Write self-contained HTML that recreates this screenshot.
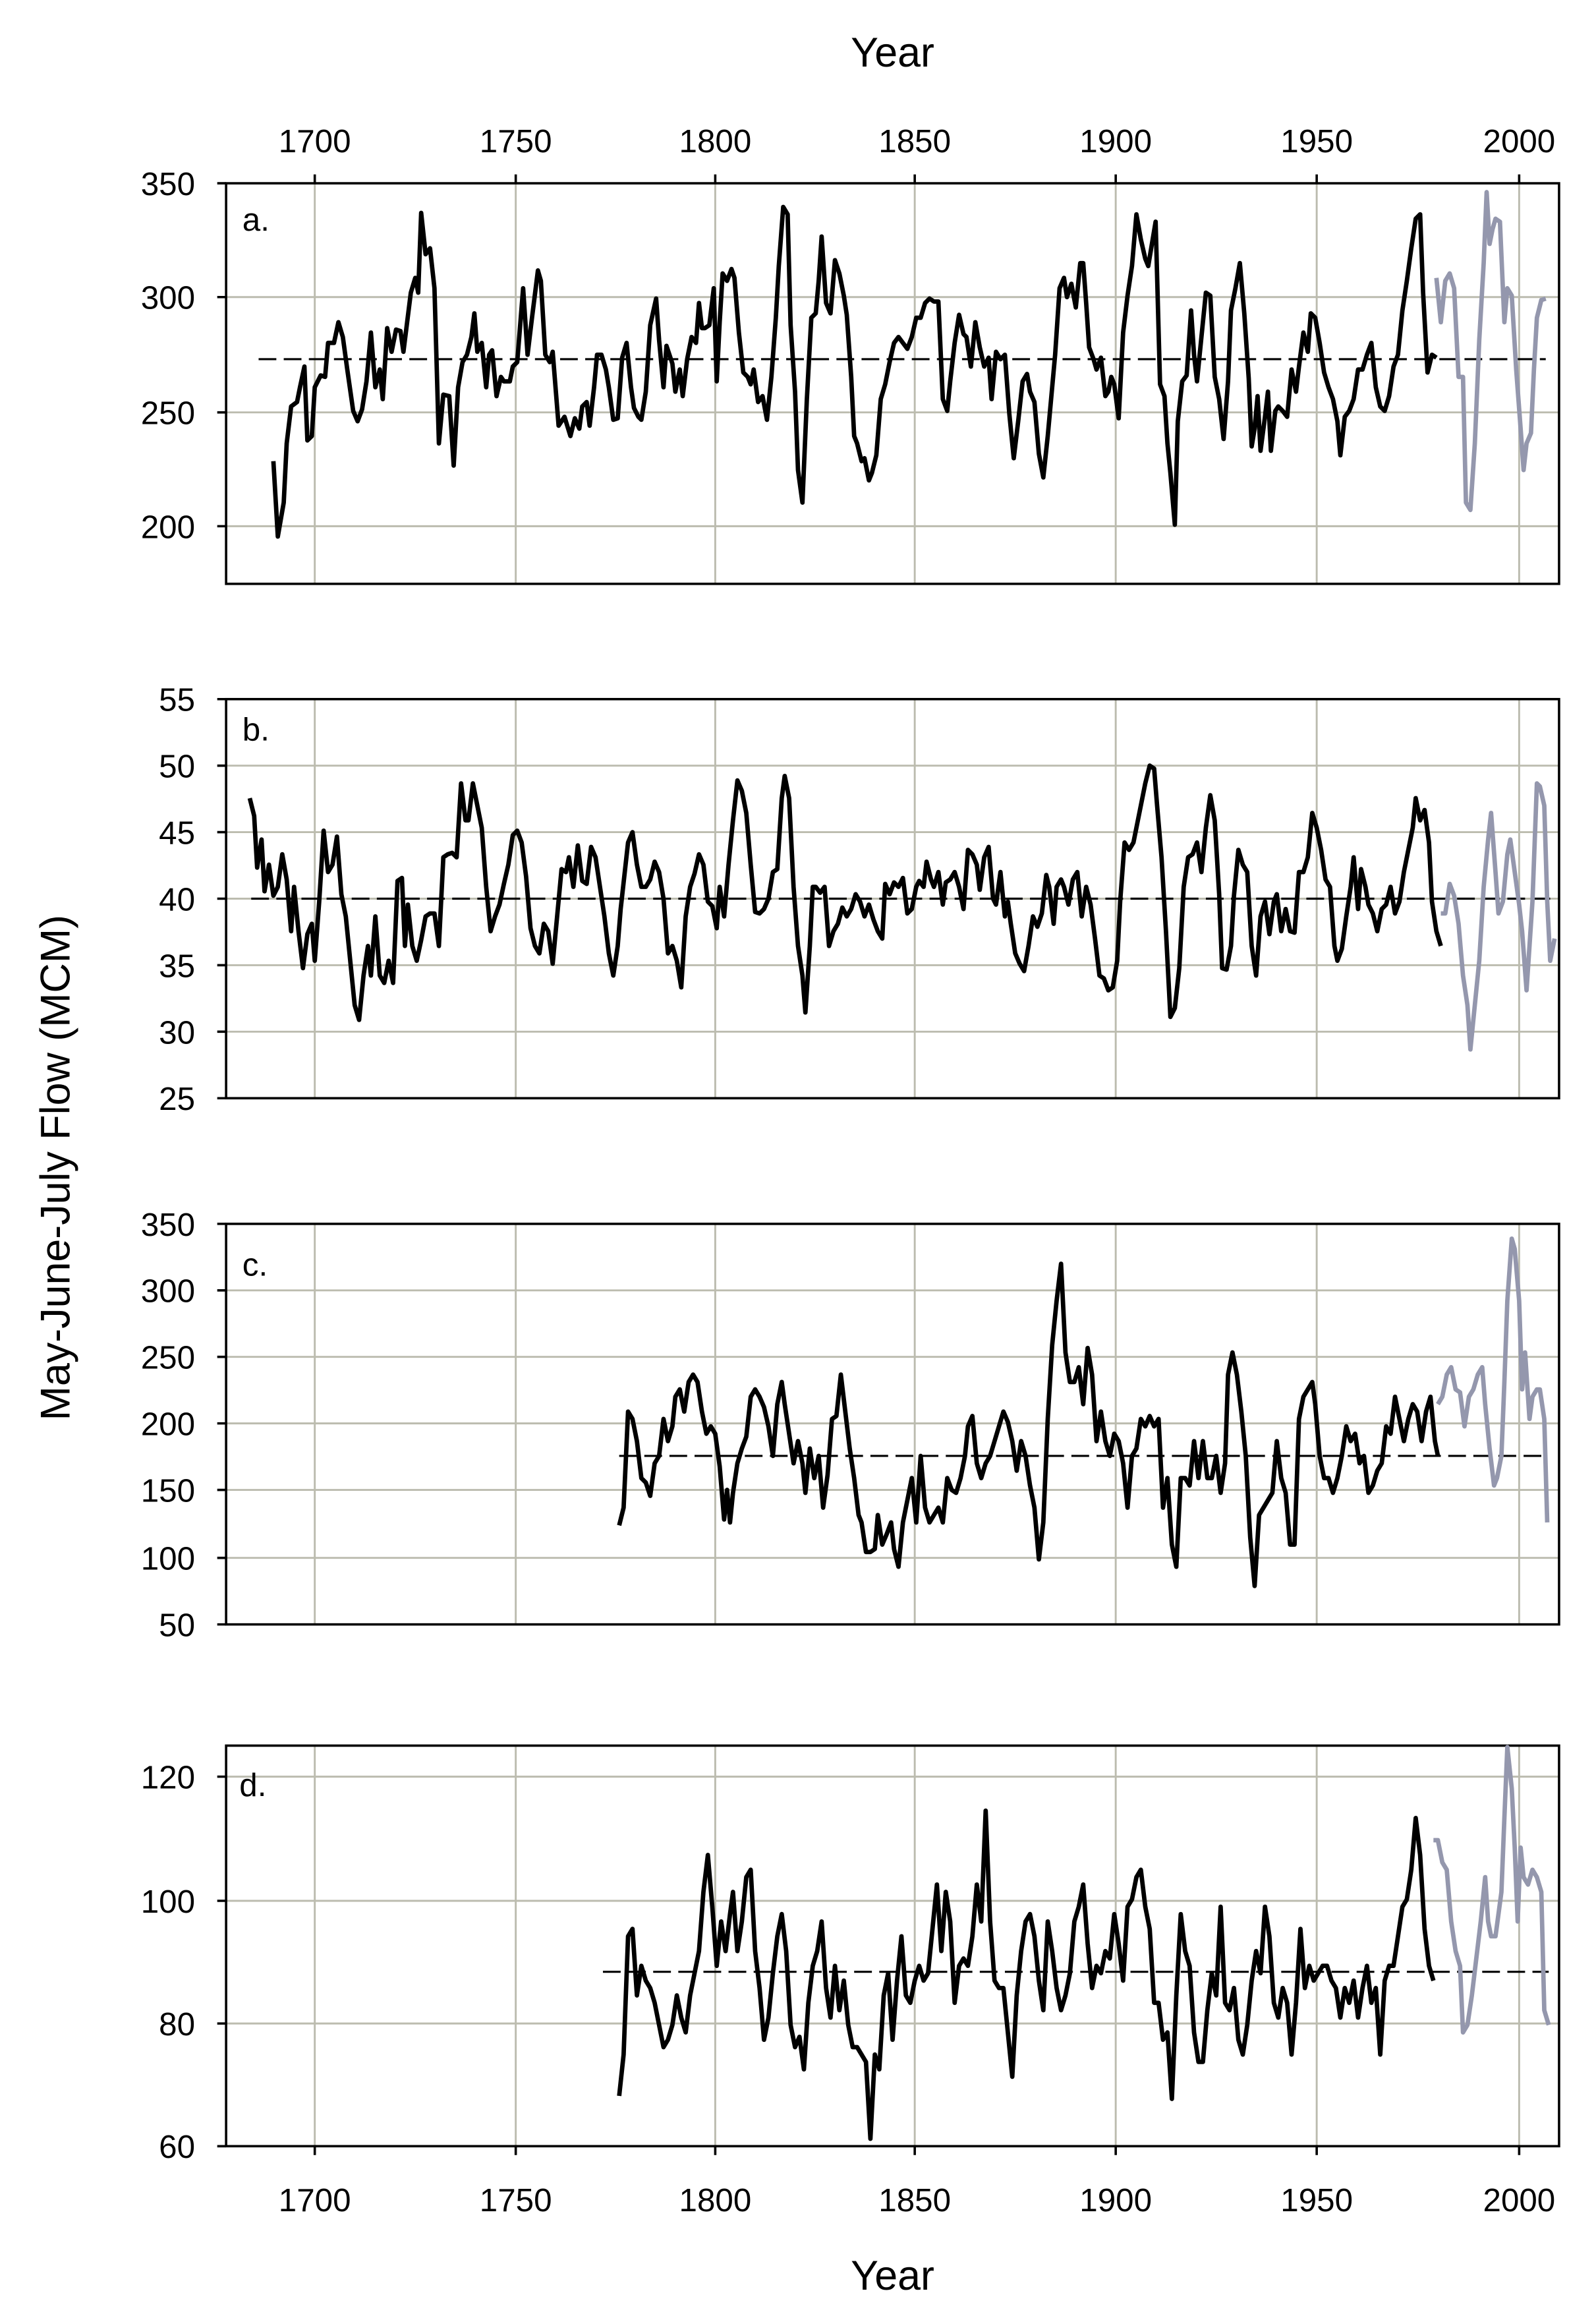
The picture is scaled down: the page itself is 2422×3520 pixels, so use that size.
<!DOCTYPE html>
<html><head><meta charset="utf-8"><style>
html,body{margin:0;padding:0;background:#fff;}
svg{display:block;}
text{font-family:"Liberation Sans",Arial,sans-serif;fill:#000;}
</style></head><body>
<svg width="2422" height="3520" viewBox="0 0 1080 1569.6" preserveAspectRatio="none" xmlns="http://www.w3.org/2000/svg">
<rect width="1080" height="1570" fill="#fff"/>
<g stroke="#bcbcaf" stroke-width="1.3">
<path d="M213,124V395M349,124V395M484,124V395M619,124V395M755,124V395M891,124V395M1028,124V395"/>
<path d="M213,473V743M349,473V743M484,473V743M619,473V743M755,473V743M891,473V743M1028,473V743"/>
<path d="M213,828V1099M349,828V1099M484,828V1099M619,828V1099M755,828V1099M891,828V1099M1028,828V1099"/>
<path d="M213,1181V1452M349,1181V1452M484,1181V1452M619,1181V1452M755,1181V1452M891,1181V1452M1028,1181V1452"/>
<path d="M153,201H1055M153,279H1055M153,356H1055"/>
<path d="M153,518H1055M153,563H1055M153,608H1055M153,653H1055M153,698H1055"/>
<path d="M153,873H1055M153,918H1055M153,963H1055M153,1008H1055M153,1054H1055"/>
<path d="M153,1202H1055M153,1286H1055M153,1369H1055"/>
</g>
<g fill="none" stroke="#000" stroke-width="1.6">
<rect x="153" y="124" width="902" height="271"/>
<rect x="153" y="473" width="902" height="270"/>
<rect x="153" y="828" width="902" height="271"/>
<rect x="153" y="1181" width="902" height="271"/>
<path d="M147,124H153M147,201H153M147,279H153M147,356H153"/>
<path d="M147,473H153M147,518H153M147,563H153M147,608H153M147,653H153M147,698H153M147,743H153"/>
<path d="M147,828H153M147,873H153M147,918H153M147,963H153M147,1008H153M147,1054H153M147,1099H153"/>
<path d="M147,1202H153M147,1286H153M147,1369H153M147,1452H153"/>
<path d="M213,118V124M349,118V124M484,118V124M619,118V124M755,118V124M891,118V124M1028,118V124"/>
<path d="M213,1452V1458M349,1452V1458M484,1452V1458M619,1452V1458M755,1452V1458M891,1452V1458M1028,1452V1458"/>
</g>
<g stroke-width="1.4" fill="none">
<path d="M175,243H1046" stroke="#000" stroke-dasharray="12,5"/>
<path d="M170,608H1052" stroke="#000" stroke-dasharray="12,5"/>
<path d="M419,985H1047" stroke="#000" stroke-dasharray="12,5"/>
<path d="M408,1334H1048" stroke="#000" stroke-dasharray="12,5"/>
</g>
<g fill="none" stroke-width="3" stroke-linejoin="round">
<polyline stroke="#000" points="185,312 188,363 192,340 194,300 197,275 201,272 203,262 206,248 208,298 211,295 213,262 217,254 220,255 222,232 226,232 229,218 232,228 235,250 239,278 242,285 245,277 248,258 251,225 254,262 257,250 259,270 262,222 265,238 268,223 271,224 273,238 275,222 278,198 281,188 283,198 285,144 288,172 291,168 294,195 297,300 300,267 304,268 307,315 310,262 313,245 316,240 319,228 321,212 323,238 326,232 329,262 331,240 333,237 336,268 339,255 341,258 345,258 347,248 350,245 354,195 357,240 360,215 364,183 366,190 369,240 372,245 374,238 378,288 382,282 386,295 389,283 392,290 394,275 397,272 399,288 402,262 404,240 407,240 410,250 412,262 415,284 418,283 421,242 424,232 427,262 429,276 432,282 434,284 437,265 440,220 444,202 446,230 449,262 451,234 455,246 457,265 460,250 462,268 465,243 468,228 471,232 473,205 475,222 477,222 480,220 483,195 485,258 487,218 489,185 492,190 495,182 497,188 500,225 503,252 506,255 508,260 510,250 513,272 516,268 519,284 522,255 525,215 527,180 530,140 533,145 535,220 538,265 540,318 543,340 546,270 549,215 552,212 554,190 556,160 559,205 562,212 565,176 568,185 571,200 573,213 576,255 578,295 580,300 583,312 585,310 588,325 590,320 593,308 596,270 599,260 602,245 605,232 608,228 611,232 614,236 617,228 620,215 623,215 626,205 629,202 632,204 635,204 638,270 641,278 643,258 646,232 649,213 652,226 654,228 657,248 660,218 663,235 666,248 669,242 671,270 674,238 677,243 680,240 683,280 686,310 689,285 692,258 695,253 697,265 700,272 703,307 706,323 709,295 712,262 714,240 717,195 720,188 722,201 725,192 728,208 731,178 733,178 735,205 737,235 740,243 742,250 745,242 748,268 750,265 752,255 754,260 757,283 760,225 763,200 766,180 769,145 772,162 775,175 777,180 780,162 782,150 785,260 788,268 790,300 792,320 795,355 797,285 800,258 803,254 806,210 808,240 810,258 813,228 816,198 819,200 822,255 825,270 828,297 831,258 833,210 836,195 839,178 842,212 845,256 847,302 849,290 851,268 853,305 856,282 858,265 860,305 863,278 865,275 868,278 871,282 874,250 877,265 879,248 882,225 885,238 887,212 890,215 893,232 896,252 899,262 902,270 905,285 907,308 910,282 913,278 916,270 919,250 922,250 925,240 928,232 931,262 934,275 937,278 940,268 943,248 946,240 949,210 952,190 955,168 958,148 961,145 963,198 966,252 969,240 972,242"/>
<polyline stroke="#9497ad" points="972,188 975,218 978,190 981,185 984,195 987,255 990,255 992,340 995,345 998,300 1001,230 1004,178 1006,130 1008,165 1010,155 1012,148 1015,150 1018,218 1020,195 1023,200 1026,250 1029,290 1031,318 1033,300 1036,293 1038,250 1040,215 1043,203 1046,202"/>
<polyline stroke="#000" points="169,540 172,552 174,587 177,568 179,603 182,585 185,606 188,600 191,578 194,595 197,630 199,600 202,630 205,655 208,632 211,625 213,650 216,610 219,562 222,590 225,585 228,566 231,605 234,620 237,650 240,680 243,690 246,660 249,640 251,660 254,620 257,660 260,665 263,650 266,665 269,596 272,594 274,640 276,612 279,640 282,650 285,636 288,620 291,618 294,618 297,640 300,580 303,578 306,577 309,580 312,530 315,555 317,555 320,530 323,545 326,560 329,600 332,630 335,620 338,612 341,598 344,585 347,565 350,562 353,570 356,593 359,628 362,640 365,645 368,625 371,630 374,652 377,620 380,588 383,590 385,580 388,600 391,572 394,596 397,598 400,573 403,580 406,600 409,620 412,645 415,660 418,640 420,615 423,588 425,570 428,563 431,585 434,600 437,600 440,595 443,583 446,590 449,608 452,645 455,640 458,650 461,668 464,620 467,600 470,591 473,578 476,585 479,610 482,613 485,628 487,600 490,620 493,585 496,555 499,528 502,535 505,550 508,585 511,617 514,618 517,615 520,608 523,590 526,588 529,540 531,525 534,540 537,600 540,640 543,660 545,685 548,640 550,600 552,600 555,604 558,600 561,640 564,630 567,625 570,614 573,620 576,615 579,605 582,610 585,620 588,612 591,622 594,630 597,635 599,598 602,605 605,597 608,600 611,594 614,618 617,615 620,600 622,596 625,600 627,583 630,595 632,600 635,590 638,612 640,597 643,595 646,590 649,600 652,615 655,575 658,578 661,585 663,602 666,580 669,573 672,608 674,612 677,590 680,620 682,610 684,625 687,645 690,652 693,657 696,640 699,620 702,627 705,618 708,592 710,600 713,625 715,600 718,595 720,600 723,612 726,595 729,590 732,620 735,600 738,612 741,635 744,660 747,662 750,670 753,668 756,650 758,610 761,570 764,575 767,570 770,555 773,540 775,530 778,518 781,520 783,545 786,580 789,630 792,688 795,682 798,655 801,600 804,580 807,578 810,570 813,590 816,560 819,538 822,555 825,605 827,655 830,656 833,640 835,606 838,575 841,585 844,590 847,640 850,660 853,620 856,610 859,632 862,610 864,605 867,630 870,615 873,630 876,631 879,590 882,590 885,580 888,550 891,560 894,575 897,595 900,600 903,640 905,650 908,642 911,620 914,600 916,580 919,615 921,588 924,600 926,612 929,618 932,630 935,615 938,612 941,600 944,618 947,610 950,590 953,575 956,560 958,540 961,555 964,548 967,570 969,610 972,630 975,640"/>
<polyline stroke="#9497ad" points="975,618 978,618 981,598 984,606 987,625 990,660 993,680 995,710 998,680 1001,650 1004,600 1007,568 1009,550 1012,590 1014,618 1017,610 1020,578 1022,568 1025,590 1028,612 1030,630 1033,670 1035,640 1037,610 1040,530 1042,532 1045,545 1047,610 1049,650 1052,635"/>
<polyline stroke="#000" points="419,1032 422,1020 425,955 428,960 431,975 434,1000 437,1003 440,1012 443,990 446,985 449,960 452,975 455,965 457,945 460,940 463,955 466,935 469,930 472,935 475,955 478,970 481,965 484,970 487,992 490,1028 492,1008 494,1030 496,1010 499,990 502,980 505,972 508,945 511,940 514,945 517,952 520,965 523,985 526,950 529,935 531,950 534,970 537,990 540,975 543,990 545,1010 548,980 551,1000 554,985 557,1020 560,998 563,960 566,958 569,930 572,955 575,980 578,1000 581,1025 583,1030 586,1050 589,1050 592,1048 594,1025 597,1045 600,1038 603,1030 605,1048 608,1060 611,1030 614,1015 617,1000 620,1030 623,985 626,1020 629,1030 632,1025 635,1020 638,1030 641,1000 644,1008 647,1010 650,1000 653,985 655,965 658,958 661,990 664,1000 667,990 670,985 673,975 676,965 679,955 682,962 685,975 688,995 691,975 694,985 697,1005 700,1020 703,1055 706,1030 709,960 712,910 715,880 718,855 721,915 724,935 727,935 730,925 733,950 736,912 739,930 742,975 745,955 748,975 751,985 754,970 757,975 760,990 763,1020 766,985 769,980 772,960 775,965 778,958 781,965 784,960 787,1020 790,1000 793,1045 796,1060 799,1000 802,1000 805,1005 808,975 811,1000 814,975 817,1000 820,1000 823,985 826,1010 829,990 831,930 834,915 837,930 840,955 843,985 846,1040 849,1073 852,1025 855,1020 858,1015 861,1010 864,975 867,1000 870,1010 873,1045 876,1045 879,960 882,945 885,940 888,935 890,950 893,985 896,1000 899,1000 902,1010 905,1000 908,985 911,965 914,975 917,970 920,990 923,985 926,1010 929,1005 932,995 935,990 938,965 941,970 944,945 947,960 950,975 953,960 956,950 959,955 962,975 965,955 968,945 971,975 973,985"/>
<polyline stroke="#9497ad" points="973,950 976,945 979,930 982,925 985,940 988,942 991,965 994,945 997,940 1000,930 1003,925 1005,950 1008,980 1011,1005 1013,1000 1016,985 1018,935 1020,880 1023,838 1025,845 1028,880 1030,940 1032,915 1035,960 1037,945 1040,940 1042,940 1045,960 1047,1030"/>
<polyline stroke="#000" points="419,1418 422,1390 425,1310 428,1305 431,1350 434,1330 437,1340 440,1345 443,1355 446,1370 449,1385 452,1380 455,1370 458,1350 461,1365 464,1375 467,1350 470,1335 473,1320 476,1280 479,1255 482,1290 485,1330 488,1300 491,1320 494,1295 496,1280 499,1320 502,1300 505,1270 508,1265 511,1320 514,1345 517,1380 520,1365 523,1335 526,1310 529,1295 532,1320 535,1370 538,1385 541,1378 544,1400 547,1355 550,1330 553,1320 556,1300 559,1345 562,1365 565,1330 568,1360 571,1340 574,1370 577,1385 580,1385 583,1390 586,1395 589,1447 592,1390 595,1400 598,1350 601,1335 604,1380 607,1340 610,1310 613,1350 616,1355 619,1340 622,1330 625,1340 628,1335 631,1305 634,1275 637,1320 640,1280 643,1300 646,1355 649,1330 652,1325 655,1330 658,1310 661,1275 664,1300 667,1225 670,1300 673,1340 676,1345 679,1345 682,1375 685,1405 688,1350 691,1320 694,1300 697,1295 700,1310 703,1340 706,1360 709,1300 712,1320 715,1345 718,1360 721,1350 724,1335 727,1300 730,1290 733,1275 736,1315 739,1345 742,1330 745,1335 748,1320 751,1325 754,1295 757,1315 760,1340 763,1290 766,1285 769,1270 772,1265 775,1290 778,1305 781,1355 784,1355 787,1380 790,1375 793,1420 796,1350 799,1295 802,1320 805,1330 808,1375 811,1395 814,1395 817,1360 820,1335 823,1350 826,1290 829,1355 832,1360 835,1345 838,1380 841,1390 844,1370 847,1340 850,1320 853,1335 856,1290 859,1310 862,1355 865,1365 868,1345 871,1355 874,1390 877,1355 880,1305 883,1345 886,1330 889,1340 892,1335 895,1330 898,1330 901,1340 904,1345 907,1365 910,1345 913,1355 916,1340 919,1365 922,1345 925,1330 928,1355 931,1345 934,1390 937,1340 940,1330 943,1330 946,1310 949,1290 952,1285 955,1265 958,1230 961,1255 964,1305 967,1330 970,1340"/>
<polyline stroke="#9497ad" points="970,1245 973,1245 976,1260 979,1265 982,1300 985,1320 988,1330 990,1375 993,1370 996,1350 999,1325 1002,1300 1005,1270 1007,1300 1009,1310 1012,1310 1014,1295 1016,1280 1018,1230 1020,1182 1023,1210 1025,1250 1027,1300 1029,1250 1031,1270 1034,1275 1037,1265 1040,1270 1043,1280 1045,1360 1048,1370"/>
</g>
<g font-size="22" text-anchor="end">
<text x="132" y="132">350</text><text x="132" y="209">300</text><text x="132" y="287">250</text><text x="132" y="364">200</text>
<text x="132" y="481">55</text><text x="132" y="526">50</text><text x="132" y="571">45</text><text x="132" y="616">40</text><text x="132" y="661">35</text><text x="132" y="706">30</text><text x="132" y="751">25</text>
<text x="132" y="836">350</text><text x="132" y="881">300</text><text x="132" y="926">250</text><text x="132" y="971">200</text><text x="132" y="1016">150</text><text x="132" y="1062">100</text><text x="132" y="1107">50</text>
<text x="132" y="1210">120</text><text x="132" y="1294">100</text><text x="132" y="1377">80</text><text x="132" y="1460">60</text>
</g>
<g font-size="22" text-anchor="middle">
<text x="213" y="103">1700</text><text x="349" y="103">1750</text><text x="484" y="103">1800</text><text x="619" y="103">1850</text><text x="755" y="103">1900</text><text x="891" y="103">1950</text><text x="1028" y="103">2000</text>
<text x="213" y="1496">1700</text><text x="349" y="1496">1750</text><text x="484" y="1496">1800</text><text x="619" y="1496">1850</text><text x="755" y="1496">1900</text><text x="891" y="1496">1950</text><text x="1028" y="1496">2000</text>
</g>
<g font-size="22">
<text x="164" y="156">a.</text><text x="164" y="501">b.</text><text x="164" y="863">c.</text><text x="162" y="1215">d.</text>
</g>
<g font-size="28" text-anchor="middle">
<text x="604" y="45">Year</text>
<text x="604" y="1549">Year</text>
<text transform="translate(47,790) rotate(-90)">May-June-July Flow (MCM)</text>
</g>
</svg>
</body></html>
